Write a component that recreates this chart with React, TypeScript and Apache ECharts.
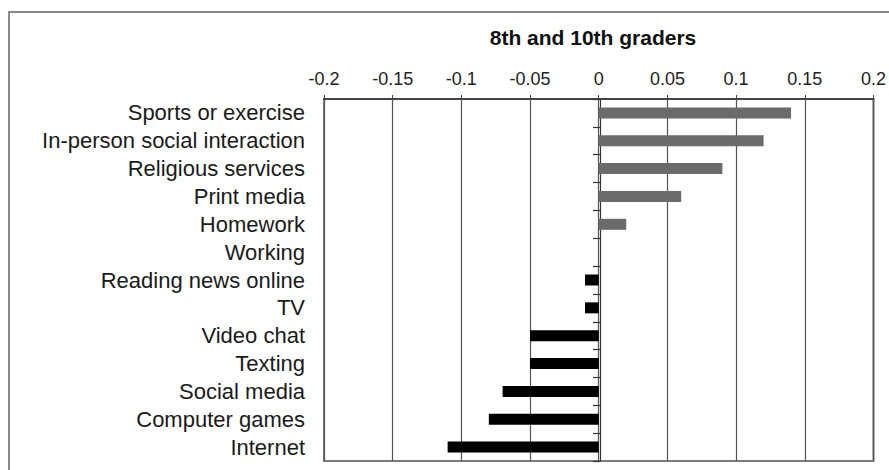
import React, { useEffect, useRef } from "react";
import * as echarts from "echarts";

const categories = [
  "Sports or exercise",
  "In-person social interaction",
  "Religious services",
  "Print media",
  "Homework",
  "Working",
  "Reading news online",
  "TV",
  "Video chat",
  "Texting",
  "Social media",
  "Computer games",
  "Internet",
];

const values = [0.14, 0.12, 0.09, 0.06, 0.02, 0, -0.01, -0.01, -0.05, -0.05, -0.07, -0.08, -0.11];

const titleText = "8th and 10th graders";
const axisMin = -0.2;
const axisMax = 0.2;
const axisStep = 0.05;

export default function App() {
  const ref = useRef<HTMLDivElement>(null);

  useEffect(() => {
    document.body.style.margin = "0";
    if (!ref.current) return;
    const chart = echarts.init(ref.current, null, { renderer: "svg" });
    const font = "'Liberation Sans', Arial, sans-serif";
    const gridLeft = 324;
    const gridWidth = 552;
    const zeroOffset = -((0 - axisMin) / (axisMax - axisMin)) * gridWidth;

    chart.setOption({
      animation: false,
      backgroundColor: "#ffffff",
      title: {
        text: titleText,
        left: 588,
        top: 22,
        textAlign: "center",
        textStyle: { fontFamily: font, fontSize: 21, fontWeight: "bold", color: "#111" },
      },
      graphic: [
        {
          type: "line",
          shape: { x1: 8, y1: 12, x2: 889, y2: 12 },
          style: { stroke: "#8a8a8a", lineWidth: 2 },
          silent: true,
          z: 100,
        },
        {
          type: "line",
          shape: { x1: 9, y1: 11, x2: 9, y2: 470 },
          style: { stroke: "#8a8a8a", lineWidth: 2 },
          silent: true,
          z: 100,
        },
      ],
      grid: {
        left: gridLeft,
        top: 99,
        width: gridWidth,
        height: 362,
        show: true,
        borderColor: "#7a7a7a",
        borderWidth: 2,
        backgroundColor: "transparent",
      },
      xAxis: {
        type: "value",
        position: "top",
        min: axisMin,
        max: axisMax,
        interval: axisStep,
        axisLine: { show: true, lineStyle: { color: "#444", width: 2 } },
        axisTick: { show: true, length: 4, lineStyle: { color: "#444" } },
        axisLabel: {
          margin: 11,
          fontFamily: font,
          fontSize: 18,
          color: "#222",
          formatter: (v: number) => String(Math.round(v * 100) / 100),
        },
        splitLine: { show: true, lineStyle: { color: "#555", width: 1.2 } },
      },
      yAxis: [
        {
          type: "category",
          data: categories,
          inverse: true,
          position: "left",
          axisLine: { show: false },
          axisTick: { show: false },
          axisLabel: { interval: 0, margin: 19, fontFamily: font, fontSize: 22, color: "#1a1a1a" },
        },
        {
          type: "category",
          data: categories,
          inverse: true,
          position: "left",
          offset: zeroOffset,
          axisLine: { show: true, lineStyle: { color: "#333", width: 1.2 } },
          axisTick: { show: true, interval: 0, length: 7, lineStyle: { color: "#333", width: 1.2 } },
          axisLabel: { show: false },
        },
      ],
      series: [
        {
          type: "bar",
          yAxisIndex: 0,
          barWidth: 11,
          data: values.map((v) => ({
            value: v,
            itemStyle: { color: v >= 0 ? "#6b6b6b" : "#000000" },
          })),
        },
      ],
    });

    return () => chart.dispose();
  }, []);

  return <div ref={ref} style={{ width: 889, height: 470 }} />;
}
